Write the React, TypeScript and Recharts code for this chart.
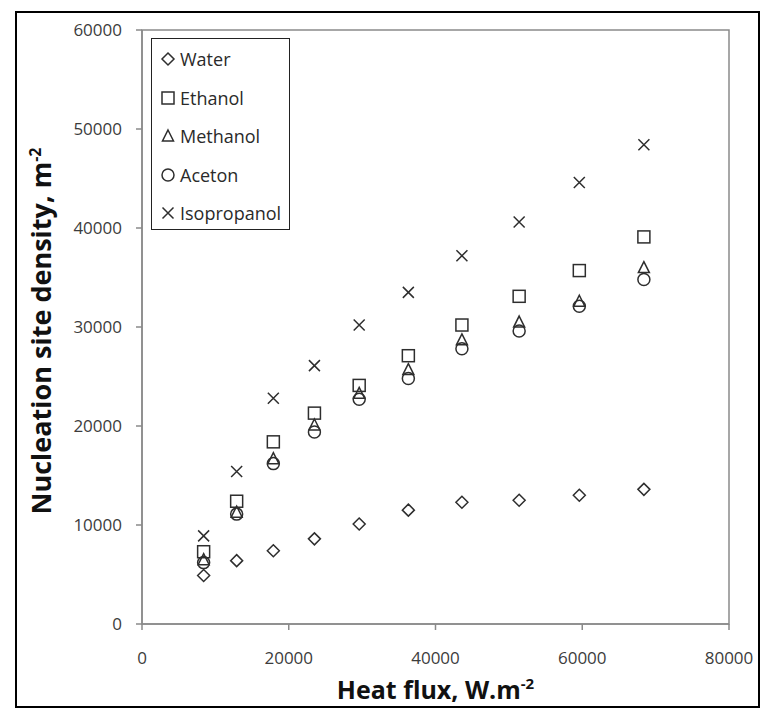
import React from 'react';
import { ScatterChart, Scatter, XAxis, YAxis, ReferenceArea, Label } from 'recharts';

const heatFlux = [8400, 12900, 17900, 23500, 29600, 36300, 43600, 51400, 59600, 68400];
const water = [4900, 6400, 7400, 8600, 10100, 11500, 12300, 12500, 13000, 13600];
const ethanol = [7300, 12400, 18400, 21300, 24100, 27100, 30200, 33100, 35700, 39100];
const methanol = [6500, 11300, 16700, 20100, 23300, 25700, 28700, 30500, 32600, 36000];
const aceton = [6200, 11100, 16200, 19400, 22700, 24800, 27800, 29600, 32100, 34800];
const isopropanol = [8900, 15400, 22800, 26100, 30200, 33500, 37200, 40600, 44600, 48400];
const seriesNames = ['Water', 'Ethanol', 'Methanol', 'Aceton', 'Isopropanol'];
const xTicks = [0, 20000, 40000, 60000, 80000];
const yTicks = [0, 10000, 20000, 30000, 40000, 50000, 60000];

const MARK = '#2e2e2e';
const AXIS = '#8a8a8a';
const FONT = "'Open Sans', sans-serif";

type Kind = 'diamond' | 'square' | 'triangle' | 'circle' | 'x';
const kinds: Kind[] = ['diamond', 'square', 'triangle', 'circle', 'x'];

function Marker({ kind, cx, cy }: { kind: Kind; cx: number; cy: number }) {
  const p = { fill: 'none', stroke: MARK, strokeWidth: 1.5 };
  switch (kind) {
    case 'diamond':
      return <path d={`M${cx},${cy - 6}L${cx + 6},${cy}L${cx},${cy + 6}L${cx - 6},${cy}Z`} {...p} />;
    case 'square':
      return <rect x={cx - 6} y={cy - 6} width={12} height={12} {...p} />;
    case 'triangle':
      return <path d={`M${cx},${cy - 6}L${cx + 5.5},${cy + 5}L${cx - 5.5},${cy + 5}Z`} {...p} />;
    case 'circle':
      return <circle cx={cx} cy={cy} r={6} {...p} />;
    default:
      return (
        <path d={`M${cx - 5.5},${cy - 5.5}L${cx + 5.5},${cy + 5.5}M${cx + 5.5},${cy - 5.5}L${cx - 5.5},${cy + 5.5}`} {...p} />
      );
  }
}

const mk = (vals: number[]) => heatFlux.map((x, i) => ({ x, y: vals[i] }));
const seriesData = [mk(water), mk(ethanol), mk(methanol), mk(aceton), mk(isopropanol)];

function LegendBox() {
  return (
    <div
      style={{
        position: 'absolute',
        left: 151,
        top: 38,
        width: 139,
        height: 192,
        boxSizing: 'border-box',
        border: '1.5px solid #222',
        background: '#fff',
        paddingTop: 1,
        fontFamily: FONT,
        fontSize: 18,
        color: '#2a2a2a',
      }}
    >
      {seriesNames.map((n, i) => (
        <div key={n} style={{ height: 38.5, display: 'flex', alignItems: 'center' }}>
          <svg width={27} height={20} style={{ flex: 'none' }}>
            <Marker kind={kinds[i]} cx={16} cy={10} />
          </svg>
          <span style={{ marginLeft: 1 }}>{n}</span>
        </div>
      ))}
    </div>
  );
}

export default function App() {
  return (
    <div style={{ position: 'absolute', left: 0, top: 0, width: 765, height: 719, background: '#fff' }}>
      <ScatterChart width={765} height={719} margin={{ top: 30, right: 36, bottom: 0, left: 0 }}>
        <XAxis
          type="number"
          dataKey="x"
          domain={[0, 80000]}
          ticks={xTicks}
          height={95}
          tickSize={6}
          tickMargin={22}
          stroke={AXIS}
          strokeWidth={1.5}
          tick={{ fill: '#3c3c3c', fontSize: 17, fontFamily: FONT }}
          interval={0}
        >
          <Label
            content={(props: any) => {
              const vb = props.viewBox || { x: 142, y: 624, width: 587 };
              const cx = vb.x + vb.width / 2;
              const y = vb.y + 75;
              return (
                <text x={cx} y={y} textAnchor="middle" fontFamily={FONT} fontWeight="bold" fontSize={25} fill="#111">
                  Heat flux, W.m<tspan dy={-10} fontSize={15}>-2</tspan>
                </text>
              );
            }}
          />
        </XAxis>
        <YAxis
          type="number"
          dataKey="y"
          domain={[0, 60000]}
          ticks={yTicks}
          width={142}
          tickSize={6}
          tickMargin={14}
          stroke={AXIS}
          strokeWidth={1.5}
          tick={{ fill: '#3c3c3c', fontSize: 17, fontFamily: FONT }}
          interval={0}
        >
          <Label
            content={(props: any) => {
              const vb = props.viewBox || { x: 0, y: 30, height: 594 };
              const x = 51;
              const cy = vb.y + vb.height / 2 + 4;
              return (
                <text
                  x={x}
                  y={cy}
                  transform={`rotate(-90, ${x}, ${cy})`}
                  textAnchor="middle"
                  fontFamily={FONT}
                  fontWeight="bold"
                  fontSize={27}
                  fill="#111"
                >
                  Nucleation site density, m<tspan dy={-10} fontSize={16}>-2</tspan>
                </text>
              );
            }}
          />
        </YAxis>
        <ReferenceArea x1={0} x2={80000} y1={0} y2={60000} fill="none" stroke={AXIS} strokeWidth={1.5} />
        {seriesNames.map((n, i) => (
          <Scatter
            key={n}
            name={n}
            data={seriesData[i]}
            isAnimationActive={false}
            shape={(props: any) => <Marker kind={kinds[i]} cx={props.cx} cy={props.cy} />}
          />
        ))}
      </ScatterChart>
      <LegendBox />
      <div
        style={{
          position: 'absolute',
          left: 15,
          top: 11,
          width: 745,
          height: 697,
          boxSizing: 'border-box',
          border: '2.5px solid #000',
          pointerEvents: 'none',
        }}
      />
    </div>
  );
}
